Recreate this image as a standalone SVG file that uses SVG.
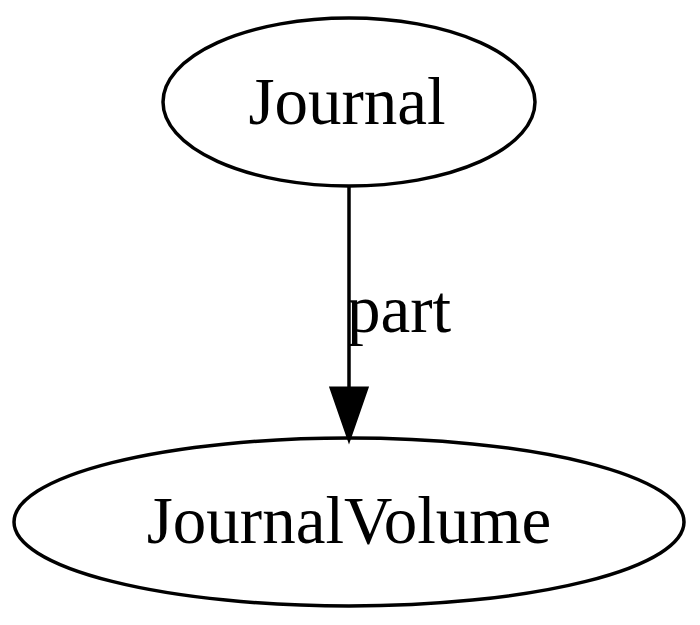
<svg xmlns="http://www.w3.org/2000/svg" width="700" height="625" viewBox="0 0 700 625">
<style>
.node ellipse{fill:none;stroke:#000;stroke-width:3.5}
text{font-family:"Liberation Serif","Times New Roman",serif;font-size:67px;fill:#000}
.edge line{stroke:#000;stroke-width:3.5}
</style>
<rect width="700" height="625" fill="#fff"/>
<g id="node-journal" class="node">
<ellipse cx="349" cy="102" rx="186" ry="84"/>
<text x="347" y="124" text-anchor="middle">Journal</text>
</g>
<g id="node-journalvolume" class="node">
<ellipse cx="349" cy="522" rx="335" ry="84"/>
<text x="349" y="543" text-anchor="middle">JournalVolume</text>
</g>
<g id="connectors" class="edge">
<line x1="349" y1="186" x2="349" y2="390"/>
<polygon points="331,388 367,388 349,440" fill="#000" stroke="#000" stroke-width="3"/>
<text x="347" y="332">part</text>
</g>
</svg>
